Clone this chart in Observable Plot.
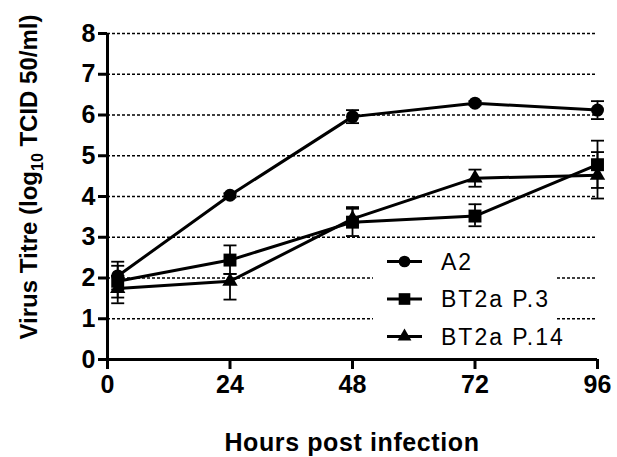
<!DOCTYPE html>
<html><head><meta charset="utf-8">
<script src="https://cdn.jsdelivr.net/npm/d3@7"></script>
<script src="https://cdn.jsdelivr.net/npm/@observablehq/plot@0.6"></script>
<style>body{margin:0;background:#fff;} svg{display:block;}</style>
</head><body><div id="chart"></div>
<script>
const hours = [2, 24, 48, 72, 96];
const seriesNames = ["A2", "BT2a P.3", "BT2a P.14"];
const a2Mean = [2.05, 4.03, 5.96, 6.29, 6.12];
const a2Low  = [1.72, 3.98, 5.80, 6.24, 5.90];
const a2High = [2.40, 4.08, 6.12, 6.34, 6.34];
const p3Mean = [1.92, 2.44, 3.37, 3.52, 4.78];
const p3Low  = [1.52, 2.10, 3.03, 3.27, 4.21];
const p3High = [2.30, 2.80, 3.70, 3.81, 5.37];
const p14Mean = [1.74, 1.92, 3.45, 4.45, 4.52];
const p14Low  = [1.38, 1.47, 3.30, 4.24, 3.95];
const p14High = [2.05, 2.10, 3.74, 4.66, 5.09];
const xTicks = [0, 24, 48, 72, 96];
const yTicks = [0, 1, 2, 3, 4, 5, 6, 7, 8];
const xTitle = "Hours post infection";

const means = [a2Mean, p3Mean, p14Mean];
const lows = [a2Low, p3Low, p14Low];
const highs = [a2High, p3High, p14High];
const symbolOf = {"A2": "circle", "BT2a P.3": "square", "BT2a P.14": "triangle"};
const radiusOf = {"A2": 6.5, "BT2a P.3": 7.3, "BT2a P.14": 5.7};

const rows = [];
seriesNames.forEach((name, i) => {
  hours.forEach((h, j) => {
    rows.push({series: name, hour: h, mean: means[i][j], low: lows[i][j], high: highs[i][j]});
  });
});

const capSymbol = {draw(ctx) { ctx.moveTo(-6.5, 0); ctx.lineTo(6.5, 0); }};

const dotMarks = seriesNames.map(name =>
  Plot.dot(rows.filter(r => r.series === name), {
    x: "hour", y: "mean", symbol: symbolOf[name], r: radiusOf[name], fill: "black", stroke: "none"
  })
);

const chart = Plot.plot({
  width: 617, height: 457,
  marginLeft: 107, marginRight: 20, marginTop: 33, marginBottom: 98,
  x: {domain: [0, 96]},
  y: {domain: [0, 8]},
  style: {fontFamily: "'Liberation Sans', Arial, sans-serif", background: "white", color: "black"},
  marks: [
    Plot.gridY(yTicks.filter(d => d > 0), {stroke: "black", strokeOpacity: 1, strokeWidth: 1.3, strokeDasharray: "3,2"}),
    Plot.axisX({ticks: xTicks, tickSize: 10, tickPadding: 6, fontSize: 25, fontWeight: "bold", label: null, strokeWidth: 3}),
    Plot.axisY({ticks: yTicks, tickSize: 9, tickPadding: 3, fontSize: 25, fontWeight: "bold", label: null, strokeWidth: 3}),
    Plot.ruleY([0], {strokeWidth: 3}),
    Plot.ruleX([0], {strokeWidth: 3}),
    Plot.line(rows, {x: "hour", y: "mean", z: "series", stroke: "black", strokeWidth: 3}),
    Plot.ruleX(rows, {x: "hour", y1: "low", y2: "high", stroke: "black", strokeWidth: 1.8}),
    Plot.dot(rows, {x: "hour", y: "low", symbol: capSymbol, r: 5, stroke: "black", strokeWidth: 1.8, fill: "none"}),
    Plot.dot(rows, {x: "hour", y: "high", symbol: capSymbol, r: 5, stroke: "black", strokeWidth: 1.8, fill: "none"}),
    ...dotMarks
  ]
});

const svg = d3.select(chart);
const font = "'Liberation Sans', Arial, sans-serif";

// Y title with subscript
const yt = svg.append("text")
  .attr("transform", "translate(37,177) rotate(-90)")
  .attr("text-anchor", "middle")
  .attr("font-family", font).attr("font-size", 24).attr("font-weight", "bold").attr("fill", "black");
yt.append("tspan").text("Virus Titre (log");
yt.append("tspan").attr("dy", 6).attr("font-size", 16).text("10");
yt.append("tspan").attr("dy", -6).text(" TCID 50/ml)");

// X title
svg.append("text")
  .attr("x", 352).attr("y", 451)
  .attr("text-anchor", "middle")
  .attr("font-family", font).attr("font-size", 25).attr("font-weight", "bold")
  .attr("letter-spacing", 0.6).attr("fill", "black")
  .text(xTitle);

// Legend
const lg = svg.append("g");
lg.append("rect").attr("x", 373).attr("y", 243).attr("width", 184).attr("height", 108).attr("fill", "white");
seriesNames.forEach((name, i) => {
  const cy = 261.5 + 37.5 * i;
  lg.append("line").attr("x1", 387).attr("x2", 422).attr("y1", cy).attr("y2", cy)
    .attr("stroke", "black").attr("stroke-width", 3);
  const sym = {circle: d3.symbolCircle, square: d3.symbolSquare, triangle: d3.symbolTriangle}[symbolOf[name]];
  const r = radiusOf[name] * 0.9;
  lg.append("path").attr("transform", `translate(404.5,${cy})`)
    .attr("d", d3.symbol(sym, Math.PI * r * r)()).attr("fill", "black");
  lg.append("text").attr("x", 441).attr("y", cy).attr("dy", "0.36em")
    .attr("text-anchor", "start")
    .attr("font-family", font).attr("font-size", 23).attr("letter-spacing", 2)
    .attr("fill", "black").text(name);
});

document.getElementById("chart").appendChild(chart);
</script>
</body></html>
